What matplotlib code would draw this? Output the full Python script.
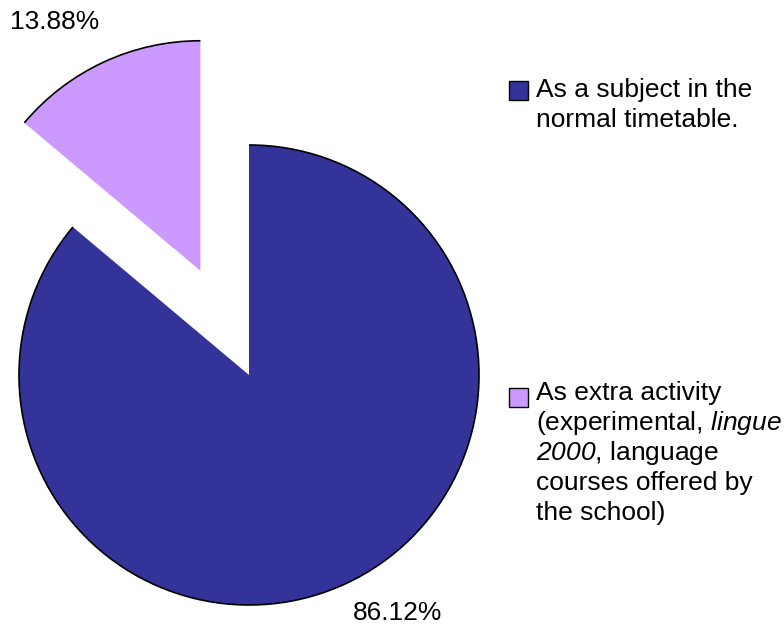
import matplotlib
matplotlib.use("Agg")
import matplotlib.pyplot as plt
from matplotlib.patches import Arc, Rectangle

plt.rcParams['font.family'] = ['Liberation Sans', 'DejaVu Sans']
plt.rcParams['mathtext.fontset'] = 'custom'
plt.rcParams['mathtext.it'] = 'Liberation Sans:italic'
plt.rcParams['mathtext.rm'] = 'Liberation Sans:italic'

# data
labels = ["As a subject in the\nnormal timetable.",
          "As extra activity\n(experimental, $\\mathit{lingue}$\n$2000$, language\ncourses offered by\nthe school)"]
values = [86.12, 13.88]
colors = ["#333399", "#CC99FF"]

W, H = 784, 631
fig = plt.figure(figsize=(W / 100, H / 100), dpi=100)
ax = fig.add_axes([0, 0, 1, 1])

wedges, _ = ax.pie(values, colors=colors, startangle=90, counterclock=False,
                   center=(249, H - 375), radius=230, explode=[0, 115],
                   wedgeprops=dict(linewidth=0), frame=True)
ax.set_xlim(0, W)
ax.set_ylim(0, H)
ax.set_aspect('equal')
ax.axis('off')

# outline only along the arcs
for w in wedges:
    ax.add_patch(Arc(w.center, 2 * w.r, 2 * w.r, theta1=w.theta1, theta2=w.theta2,
                     color='black', lw=1.2))

# percentage labels
pct_pos = [(398, 613), (55, 22)]
for v, (px, py) in zip(values, pct_pos):
    ax.text(px, H - py, "%.2f%%" % v, ha='center', va='center', fontsize=19)

# legend, drawn by hand (entries are far apart), one text per line
box_top = [81, 388]
first_base = [97, 400]
pitch = 30
for lab, c, bt, fb in zip(labels, colors, box_top, first_base):
    fig.patches.append(Rectangle((509 / W, 1 - (bt + 19) / H), 19 / W, 19 / H,
                                 transform=fig.transFigure, facecolor=c,
                                 edgecolor='black', lw=1.0))
    for i, line in enumerate(lab.split("\n")):
        fig.text(536 / W, 1 - (fb + i * pitch) / H, line, ha='left',
                 va='baseline', fontsize=19)

fig.savefig("out.png", dpi=100)
